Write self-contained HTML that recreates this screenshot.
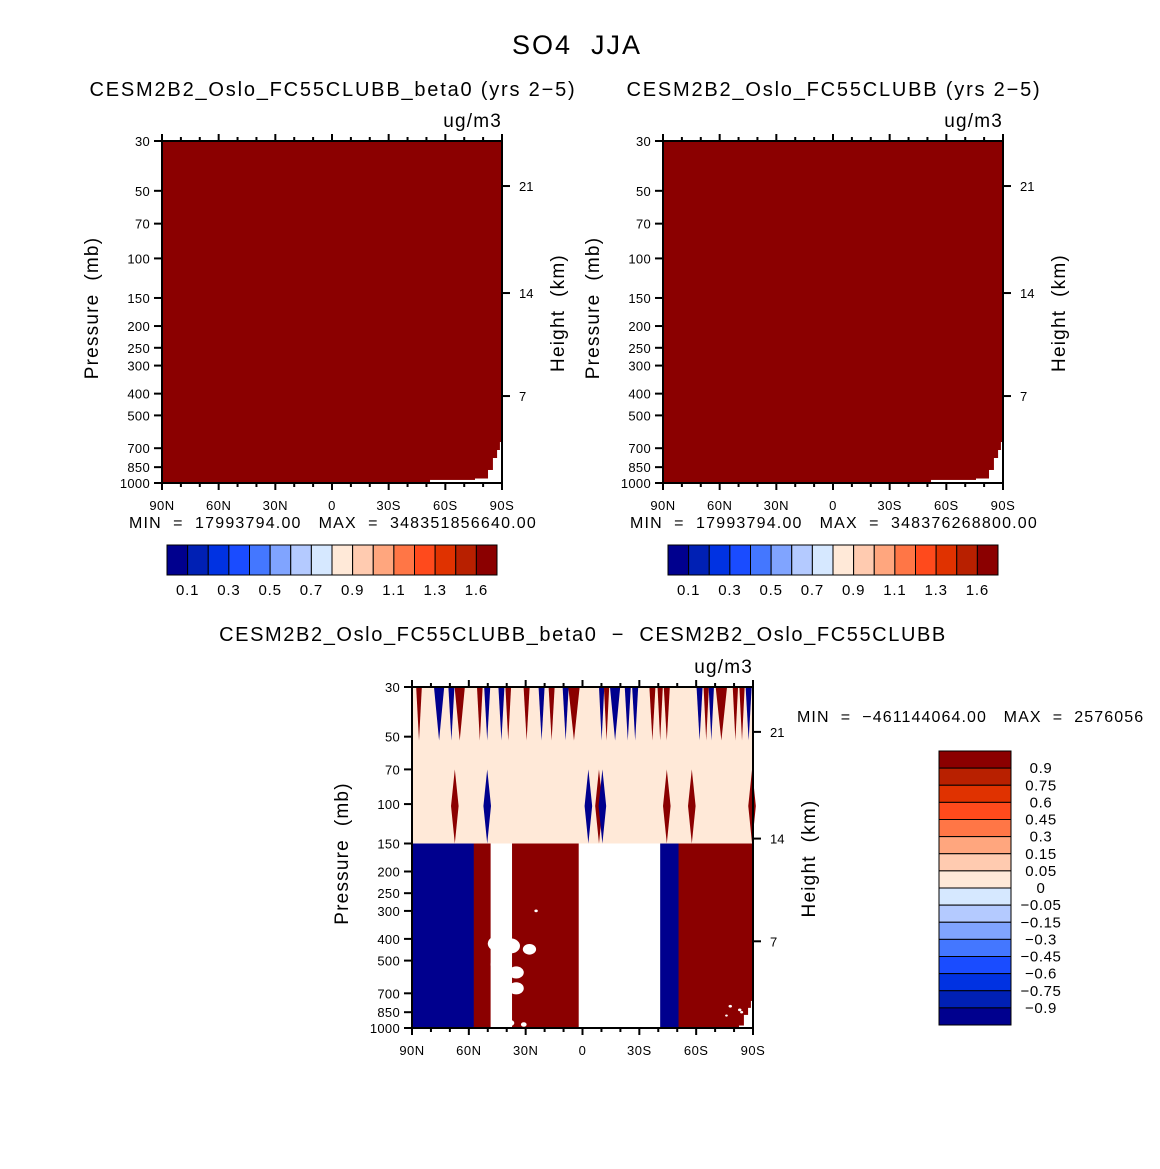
<!DOCTYPE html>
<html><head><meta charset="utf-8">
<style>
html,body{margin:0;padding:0;background:#fff;}
svg{display:block;font-family:"Liberation Sans",sans-serif;}
text{white-space:pre;}
</style></head>
<body>
<svg id="fig" width="1160" height="1169" viewBox="0 0 1160 1169" xml:space="preserve"></svg>
<script>
// ---------- data ----------
const palette = ["#00008e","#0020b4","#0032e2","#1a4cff","#4477ff","#80a4ff","#b4caff","#d6e8ff","#ffe9d8","#ffcbb0","#ffa67e","#ff7646","#ff4a1c","#e03200","#b82000","#8b0000"];
const topLevelLabels = ["0.1","0.3","0.5","0.7","0.9","1.1","1.3","1.6"];
const diffLevelLabels = ["0.9","0.75","0.6","0.45","0.3","0.15","0.05","0","-0.05","-0.15","-0.3","-0.45","-0.6","-0.75","-0.9"];
const pressureTicks = [30,50,70,100,150,200,250,300,400,500,700,850,1000];
const heightTicks = [21,14,7];
const heightTickPressure = [47.6,142.6,410];
const latTicks = [90,60,30,0,-30,-60,-90];
const latTickLabels = ["90N","60N","30N","0","30S","60S","90S"];
const cornerLat = [-51.9,-75.7,-82.6,-85.2,-87.4,-88.9,-90];
const cornerP = [969,955,875,774,713,657,640];
const spikeLat = [86.3,75.7,69.2,64.8,54.2,50.3,42.8,39.2,29.5,21.6,16.3,8.9,4.5,-10.1,-12.7,-17.2,-23.9,-27.8,-36.9,-41,-44.5,-61.8,-65.3,-68,-73.3,-80.7,-84.2,-87.7];
const spikeSign = [1,-1,-1,1,1,-1,-1,1,1,-1,1,-1,1,-1,1,-1,-1,-1,1,1,1,-1,1,-1,1,1,1,-1];
const spikeHalf = [1.5,2.7,1.6,2.7,1.5,1.6,1.6,1.5,1.6,1.6,1.6,1.6,3,1.4,1.4,2.7,1.6,1.6,1.6,1.4,1.6,1.6,1.4,1.4,3,1.4,1.4,1.6];
const diamondLat = [67.4,50.3,-3.1,-8.7,-10.5,-44.5,-57.7,-89.5];
const diamondSign = [1,-1,-1,1,-1,1,1,1];
const blockStart = [90,57.4,48.5,37.2,2.0,-41,-50.7];
const blockEnd = [57.4,48.5,37.2,2.0,-41,-50.7,-90];
const blockSign = [-1,1,0,1,0,-1,1];
const blobLat = [45,38,28,44,35,42,35,41,45,38,31,24.5,-78,-83,-76,-84];
const blobP = [420,430,445,520,565,620,665,760,950,950,965,300,800,830,880,850];
const blobR = [5,5,3.5,4.5,4,4,4,3.5,2.5,2,1.5,0.9,0.9,0.9,0.7,0.8];

// ---------- helpers ----------
const NS="http://www.w3.org/2000/svg";
const svg=document.getElementById('fig');
function mk(tag,attrs,parent,txt){const e=document.createElementNS(NS,tag);for(const k in attrs)e.setAttribute(k,attrs[k]);if(txt!==undefined)e.textContent=txt;(parent||svg).appendChild(e);return e;}
const RED=palette[15], BLUE=palette[0], PEACH=palette[8];

function panel(x0,y0,w,h,name){
  const X=lat=>x0+(90-lat)/180*w;
  const Y=p=>y0+Math.log10(p/30)/Math.log10(1000/30)*h;
  const g=mk('g',{});
  
  
  return {g,X,Y,x0,y0,w,h};
}
function axes(P){
  const {g,X,Y,x0,y0,w,h}=P;
  const a=mk('g',{stroke:'#000','stroke-width':2},g);
  
  
  mk('rect',{x:x0,y:y0,width:w,height:h,fill:'none'},a);
  for(let lat=90;lat>=-90;lat-=10){
    const major=lat%30===0; const L=major?7:4; const x=X(lat);
    mk('line',{x1:x,y1:y0,x2:x,y2:y0-L},a);
    mk('line',{x1:x,y1:y0+h,x2:x,y2:y0+h+L},a);
  }
  latTicks.forEach((lat,i)=>{const t=mk('text',{x:X(lat),y:y0+h+27,'font-size':13,'text-anchor':'middle','letter-spacing':0.5},g,latTickLabels[i]);
    });
  pressureTicks.forEach(p=>{const y=Y(p);mk('line',{x1:x0,y1:y,x2:x0-8,y2:y},a);
    const t=mk('text',{x:x0-12,y:y+5,'font-size':13,'text-anchor':'end','letter-spacing':0.3},g,p);
    });
  heightTicks.forEach((hk,i)=>{const y=Y(heightTickPressure[i]);mk('line',{x1:x0+w,y1:y,x2:x0+w+8,y2:y},a);
    const t=mk('text',{x:x0+w+17,y:y+5,'font-size':13},g,hk);
    });
  const cy=y0+h/2+4;
  const t1=mk('text',{x:0,y:0,'font-size':19,'text-anchor':'middle','letter-spacing':1.2,transform:`translate(${x0-64},${cy-8}) rotate(-90)`},g,'Pressure  (mb)');
  
  const t2=mk('text',{x:0,y:0,'font-size':19,'text-anchor':'middle','letter-spacing':1.2,transform:`translate(${x0+w+62},${cy-3}) rotate(-90)`},g,'Height  (km)');
  
  const u=mk('text',{x:x0+w,y:y0-14,'font-size':19,'text-anchor':'end','letter-spacing':1.2},g,'ug/m3');
  
}
function topPanel(x0,name,title,minmax){
  const P=panel(x0,141,340,342,name);
  const {g,X,Y}=P;
  const f=mk('rect',{x:X(90),y:Y(30),width:X(-90)-X(90),height:Y(1000)-Y(30),fill:RED},g);
  
  cornerLat.forEach((lat,i)=>{const c=mk('rect',{x:X(lat),y:Y(cornerP[i]),width:X(-90)-X(lat)+1,height:Y(1000)-Y(cornerP[i]),fill:'#fff'},g);
    });
  axes(P);
  const t=mk('text',{x:x0+171,y:96,'font-size':20,'text-anchor':'middle','letter-spacing':1.8},g,title);
  
  const m=mk('text',{x:x0+171,y:528,'font-size':16,'text-anchor':'middle','letter-spacing':1.2},g,minmax);
  
  const cb=mk('g',{},g);
  
  const cx0=x0+5, bw=330/16;
  palette.forEach((c,i)=>{const r=mk('rect',{x:cx0+i*bw,y:545,width:bw,height:30,fill:c,stroke:'#000','stroke-width':1},cb);
    });
  topLevelLabels.forEach((l,i)=>{const t=mk('text',{x:cx0+(2*i+1)*bw,y:595,'font-size':15,'text-anchor':'middle','letter-spacing':0.8},cb,l);
    });
}

const mt=mk('text',{x:577,y:54,'font-size':27,'text-anchor':'middle','letter-spacing':2},svg,'SO4  JJA');


topPanel(162,'panel-beta0','CESM2B2_Oslo_FC55CLUBB_beta0 (yrs 2\u22125)','MIN  =  17993794.00   MAX  =  348351856640.00');
topPanel(663,'panel-control','CESM2B2_Oslo_FC55CLUBB (yrs 2\u22125)','MIN  =  17993794.00   MAX  =  348376268800.00');

(function(){
  const P=panel(412,687,341,341,'panel-difference');
  const {g,X,Y}=P;
  const col=s=>s>0?RED:(s<0?BLUE:'#fff');
  const bg=mk('rect',{x:X(90),y:Y(30),width:X(-90)-X(90),height:Y(150)-Y(30),fill:PEACH},g);
  
  spikeLat.forEach((lat,i)=>{const hw=spikeHalf[i];
    const pts=[[X(lat+hw),Y(30)],[X(lat-hw),Y(30)],[X(lat),Y(52)]].map(p=>p.join(',')).join(' ');
    const s=mk('polygon',{points:pts,fill:col(spikeSign[i])},g);
    });
  diamondLat.forEach((lat,i)=>{const hw=2;
    const pts=[[X(lat),Y(70)],[X(lat+hw),Y(102)],[X(lat),Y(150)],[X(lat-hw),Y(102)]].map(p=>p.join(',')).join(' ');
    const d=mk('polygon',{points:pts,fill:col(diamondSign[i])},g);
    });
  blockStart.forEach((s,i)=>{const b=mk('rect',{x:X(s),y:Y(150),width:X(blockEnd[i])-X(s)+0.5,height:Y(1000)-Y(150),fill:col(blockSign[i])},g);
    });
  blobLat.forEach((lat,i)=>{const r=(X(0)-X(blobR[i]));
    const e=mk('ellipse',{cx:X(lat),cy:Y(blobP[i]),rx:r,ry:r*0.8,fill:'#fff'},g);
    });
  cornerLat.forEach((lat,i)=>{if(i<2)return;const c=mk('rect',{x:X(lat),y:Y(cornerP[i]+100),width:X(-90)-X(lat)+1,height:Y(1000)-Y(cornerP[i]+100),fill:'#fff'},g);
    });
  axes(P);
  const t=mk('text',{x:583,y:641,'font-size':20,'text-anchor':'middle','letter-spacing':1.6},g,'CESM2B2_Oslo_FC55CLUBB_beta0  \u2212  CESM2B2_Oslo_FC55CLUBB');
  
  const m=mk('text',{x:797,y:722,'font-size':16,'letter-spacing':1.1},g,'MIN  =  \u2212461144064.00   MAX  =  2576056');
  
  const cb=mk('g',{},g);
  
  const bh=274/16;
  palette.slice().reverse().forEach((c,i)=>{const r=mk('rect',{x:939,y:751+i*bh,width:72,height:bh,fill:c,stroke:'#000','stroke-width':1},cb);
    });
  diffLevelLabels.forEach((l,i)=>{const t=mk('text',{x:1041,y:751+(i+1)*bh+5,'font-size':15,'text-anchor':'middle','letter-spacing':0.6},cb,l.replace('-','\u2212'));
    });
})();
</script>
</body></html>
